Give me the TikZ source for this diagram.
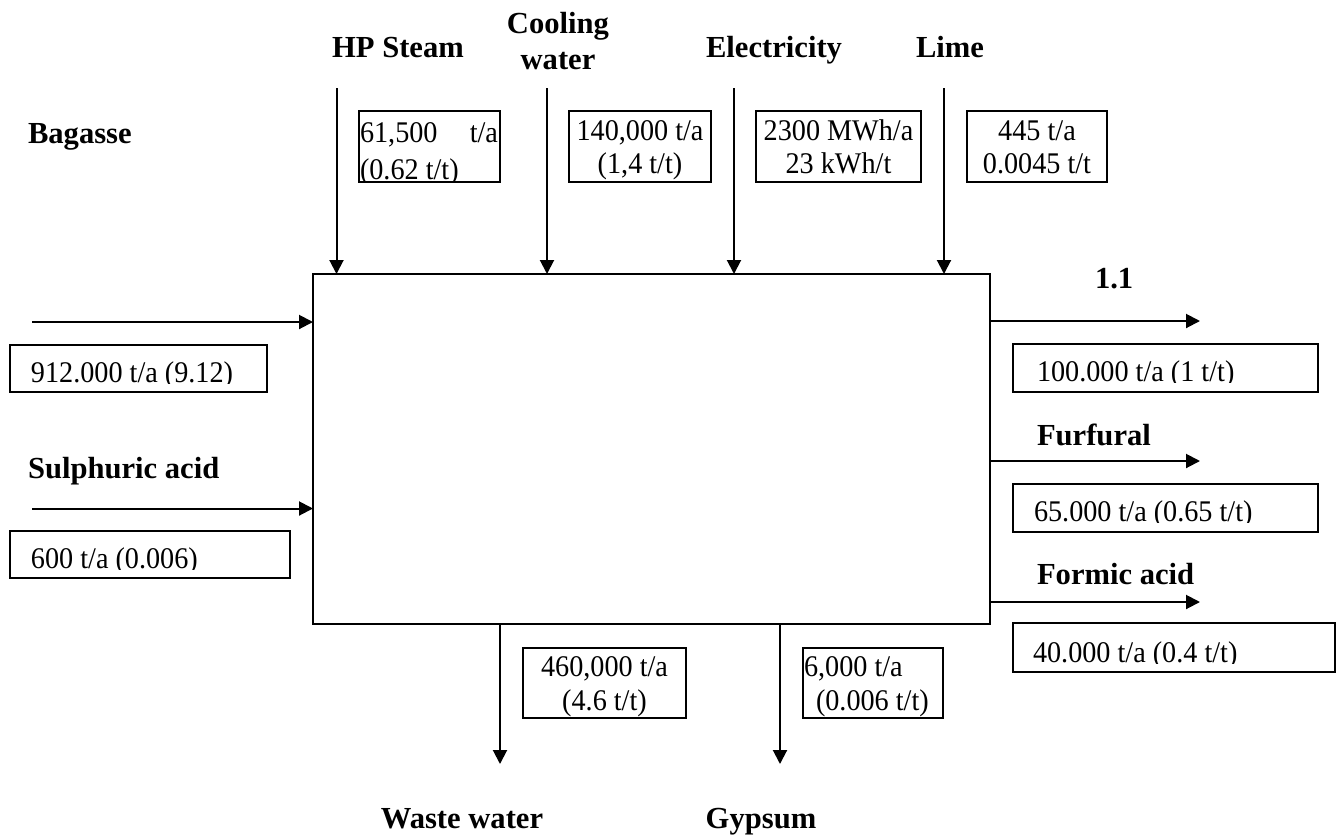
\documentclass[tikz,border=0pt]{standalone}
\usepackage{fontspec}
\usepackage{graphicx}
\setmainfont{Liberation Serif}
\usetikzlibrary{arrows.meta}
\newcommand{\sqz}[1]{\scalebox{0.94}[1]{#1}}
\begin{document}
\begin{tikzpicture}[x=0.5pt,y=-0.5pt,
  every node/.style={font=\fontsize{15}{18}\selectfont, inner sep=0pt, outer sep=0pt},
  lbl/.style={font=\fontsize{15.3}{18}\selectfont\bfseries},
  vbox/.style={draw, line width=1pt, rectangle},
  arr/.style={line width=1pt, -{Triangle[length=7pt,width=7pt]}},
]
\useasboundingbox (0,0) rectangle (1341,837);

% main process box
\node[vbox, minimum width=338.5pt, minimum height=175pt] (main) at (651.5,449) {};

% value boxes
\node[vbox, minimum width=70.5pt, minimum height=35.5pt] (bhp) at (429.5,146.5) {};
\node[vbox, minimum width=71pt, minimum height=35.5pt] (bcw) at (640,146.5) {};
\node[vbox, minimum width=82.5pt, minimum height=35.5pt] (bel) at (838.5,146.5) {};
\node[vbox, minimum width=70pt, minimum height=35.5pt] (bli) at (1037,146.5) {};
\node[vbox, minimum width=128.75pt, minimum height=23.5pt] (bbag) at (138.25,368.5) {};
\node[vbox, minimum width=140.25pt, minimum height=23.5pt] (bsul) at (149.75,554.5) {};
\node[vbox, minimum width=152.5pt, minimum height=24pt] (bp1) at (1165.5,368) {};
\node[vbox, minimum width=152.5pt, minimum height=24pt] (bp2) at (1165.5,508) {};
\node[vbox, minimum width=161pt, minimum height=24.5pt] (bp3) at (1174,647.5) {};
\node[vbox, minimum width=81.5pt, minimum height=35pt] (bww) at (604.5,683) {};
\node[vbox, minimum width=70pt, minimum height=35pt] (bgy) at (873,683) {};

% texts in value boxes
\node[anchor=base west] (thp1) at (360,142) {\sqz{\makebox[73.4pt][l]{61,500\hfill t/a}}};
\begin{scope}
  \clip (359,150) rectangle (500,182);
  \node[anchor=base west] (thp2) at (360,179) {\sqz{(0.62 t/t)}};
\end{scope}
\node[anchor=base] (tcw1) at (640,140) {\sqz{140,000 t/a}};
\node[anchor=base] (tcw2) at (640,173) {\sqz{(1,4 t/t)}};
\node[anchor=base] (tel1) at (838.5,140) {\sqz{2300 MWh/a}};
\node[anchor=base] (tel2) at (838.5,173) {\sqz{23 kWh/t}};
\node[anchor=base] (tli1) at (1037,140) {\sqz{445 t/a}};
\node[anchor=base] (tli2) at (1037,173) {\sqz{0.0045 t/t}};
\node[anchor=base] (tww1) at (604.5,676) {\sqz{460,000 t/a}};
\node[anchor=base] (tww2) at (604.5,710) {\sqz{(4.6 t/t)}};
\node[anchor=base west] (tgy1) at (804,676) {\sqz{6,000 t/a}};
\node[anchor=base west] (tgy2) at (816,710) {\sqz{(0.006 t/t)}};

\begin{scope}
  \clip (10,346) rectangle (266,383);
  \node[anchor=base west] (tbag) at (31,382) {\sqz{912.000 t/a (9.12)}};
\end{scope}
\begin{scope}
  \clip (10,532) rectangle (289,569);
  \node[anchor=base west] (tsul) at (31,568) {\sqz{600 t/a (0.006)}};
\end{scope}
\begin{scope}
  \clip (1014,345) rectangle (1317,382);
  \node[anchor=base west] (tp1) at (1037,381) {\sqz{100.000 t/a (1 t/t)}};
\end{scope}
\begin{scope}
  \clip (1014,485) rectangle (1317,522);
  \node[anchor=base west] (tp2) at (1034,521) {\sqz{65.000 t/a (0.65 t/t)}};
\end{scope}
\begin{scope}
  \clip (1014,624) rectangle (1334,663);
  \node[anchor=base west] (tp3) at (1033,662) {\sqz{40.000 t/a (0.4 t/t)}};
\end{scope}

% stream labels
\node[lbl, anchor=base west] (lbag) at (28,143) {Bagasse};
\node[lbl, anchor=base] (lhp) at (398,57) {HP Steam};
\node[lbl, anchor=base] (lcw1) at (558,33) {Cooling};
\node[lbl, anchor=base] (lcw2) at (558,69) {water};
\node[lbl, anchor=base] (lel) at (774,57) {Electricity};
\node[lbl, anchor=base] (lli) at (950,57) {Lime};
\node[lbl, anchor=base west] (lsul) at (28,478) {Sulphuric acid};
\node[lbl, anchor=base west] (lp1) at (1095,288) {1.1};
\node[lbl, anchor=base west] (lp2) at (1037,445) {Furfural};
\node[lbl, anchor=base west] (lp3) at (1037,584) {Formic acid};
\node[lbl, anchor=base] (lww) at (462,828) {Waste water};
\node[lbl, anchor=base] (lgy) at (761,828) {Gypsum};

% arrow end points
\coordinate (hpS) at (336.5,88);
\coordinate (cwS) at (547,88);
\coordinate (elS) at (734,88);
\coordinate (liS) at (944,88);
\coordinate (bagS) at (32,322);
\coordinate (sulS) at (32,508.5);
\coordinate (p1E) at (1200,321);
\coordinate (p2E) at (1200,461);
\coordinate (p3E) at (1200,602);
\coordinate (wwE) at (500,764);
\coordinate (gyE) at (780,764);

% connectors
\draw[arr] (hpS) -- (hpS |- main.north);
\draw[arr] (cwS) -- (cwS |- main.north);
\draw[arr] (elS) -- (elS |- main.north);
\draw[arr] (liS) -- (liS |- main.north);
\draw[arr] (bagS) -- (bagS -| main.west);
\draw[arr] (sulS) -- (sulS -| main.west);
\draw[arr] (p1E -| main.east) -- (p1E);
\draw[arr] (p2E -| main.east) -- (p2E);
\draw[arr] (p3E -| main.east) -- (p3E);
\draw[arr] (wwE |- main.south) -- (wwE);
\draw[arr] (gyE |- main.south) -- (gyE);
\end{tikzpicture}
\end{document}
